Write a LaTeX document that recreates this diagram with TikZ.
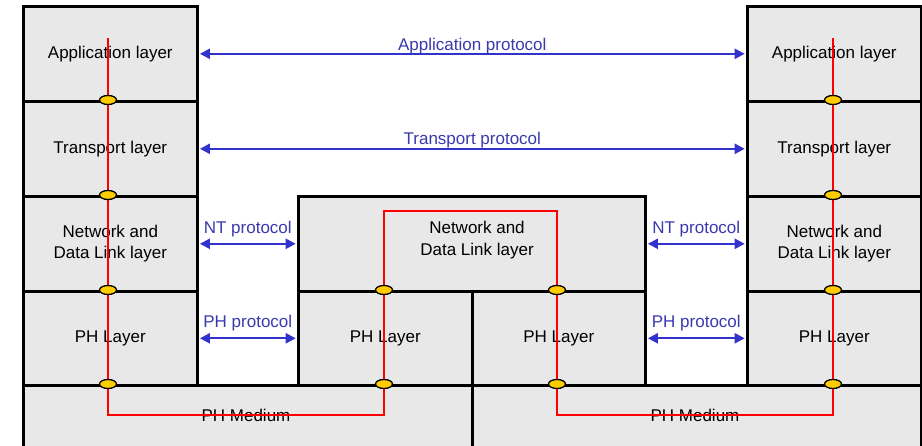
\documentclass[tikz,border=0pt]{standalone}
\usepackage{fontspec}
\setmainfont{Liberation Sans}
\usetikzlibrary{arrows.meta,shapes.geometric}
\definecolor{boxgray}{HTML}{E8E8E8}
\definecolor{protoblue}{HTML}{3333CC}
\definecolor{textblue}{HTML}{3A3AB0}
\definecolor{jointyellow}{HTML}{FFCC00}
\begin{document}
\begin{tikzpicture}[x=1pt,y=-1pt,
  layerbox/.style={draw=black, line width=2.6pt, fill=boxgray, inner sep=0pt,
    anchor=north west, align=center, font=\fontsize{17}{21.5}\selectfont},
  plaintext/.style={inner sep=0pt, align=center, font=\fontsize{17}{21.5}\selectfont},
  protoarrow/.style={draw=protoblue, line width=2.2pt,
    {Triangle[length=10pt,width=10pt]}-{Triangle[length=10pt,width=10pt]}, shorten <=1.3pt, shorten >=1.3pt},
  protolabel/.style={midway, anchor=base, text=textblue, inner sep=0pt,
    font=\fontsize{17}{20}\selectfont},
  pathline/.style={draw=red, line width=2.8pt},
  joint/.style={ellipse, draw=black, line width=1.3pt, fill=jointyellow,
    minimum width=17pt, minimum height=9pt, inner sep=0pt}
]
\useasboundingbox (0,0) rectangle (922,446);
\fill[white] (0,0) rectangle (922,446);

% left stack
\node[layerbox, minimum width=174pt, minimum height=95pt] (appL) at (22,5) {Application layer};
\node[layerbox, minimum width=174pt, minimum height=95pt] (trL) at (22,100) {Transport layer};
\node[layerbox, minimum width=174pt, minimum height=95pt] (netL) at (22,195) {Network and\\Data Link layer};
\node[layerbox, minimum width=174pt, minimum height=94pt] (phL) at (22,290) {PH Layer};

% right stack
\node[layerbox, minimum width=174pt, minimum height=95pt] (appR) at (746,5) {Application layer};
\node[layerbox, minimum width=174pt, minimum height=95pt] (trR) at (746,100) {Transport layer};
\node[layerbox, minimum width=174pt, minimum height=95pt] (netR) at (746,195) {Network and\\Data Link layer};
\node[layerbox, minimum width=174pt, minimum height=94pt] (phR) at (746,290) {PH Layer};

% middle router
\node[layerbox, minimum width=347pt, minimum height=95pt] (netM) at (297,195) {};
\node[plaintext] (netMtext) at (477,240) {Network and\\Data Link layer};
\node[layerbox, minimum width=174pt, minimum height=94pt] (phM1) at (297,290) {PH Layer};
\node[layerbox, minimum width=173pt, minimum height=94pt] (phM2) at (471,290) {PH Layer};

% media
\node[layerbox, minimum width=449pt, minimum height=62.5pt] (medL) at (22,384) {};
\node[layerbox, minimum width=449pt, minimum height=62.5pt] (medR) at (471,384) {};
\node[plaintext, anchor=base] (medLtext) at (246,422) {PH Medium};
\node[plaintext, anchor=base] (medRtext) at (695,422) {PH Medium};

% protocol arrows
\draw[protoarrow] (appL.east) -- (appR.west) node[protolabel, yshift=3pt] {Application protocol};
\draw[protoarrow] (trL.east) -- (trR.west) node[protolabel, yshift=4pt] {Transport protocol};
\draw[protoarrow] (netL.east) -- (netM.west) node[protolabel, yshift=10pt] {NT protocol};
\draw[protoarrow] (netM.east) -- (netR.west) node[protolabel, yshift=10pt] {NT protocol};
\draw[protoarrow] (phL.east) -- (phM1.west) node[protolabel, yshift=11pt] {PH protocol};
\draw[protoarrow] (phM2.east) -- (phR.west) node[protolabel, yshift=11pt] {PH protocol};

% data path
\coordinate (p0) at (108,38);
\coordinate (p1) at (108,415);
\coordinate (p2) at (384,415);
\coordinate (p3) at (384,211);
\coordinate (p4) at (557,211);
\coordinate (p5) at (557,415);
\coordinate (p6) at (833,415);
\coordinate (p7) at (833,38);
\draw[pathline] (p0) -- (p1) -- (p2) -- (p3) -- (p4) -- (p5) -- (p6) -- (p7);

% interface joints
\foreach \n/\x/\y in {jl1/108/100, jl2/108/195, jl3/108/290, jl4/108/384,
                      jm1/384/290, jm2/384/384, jm3/557/290, jm4/557/384,
                      jr1/833/100, jr2/833/195, jr3/833/290, jr4/833/384}
  \node[joint] (\n) at (\x,\y) {};
\end{tikzpicture}
\end{document}
